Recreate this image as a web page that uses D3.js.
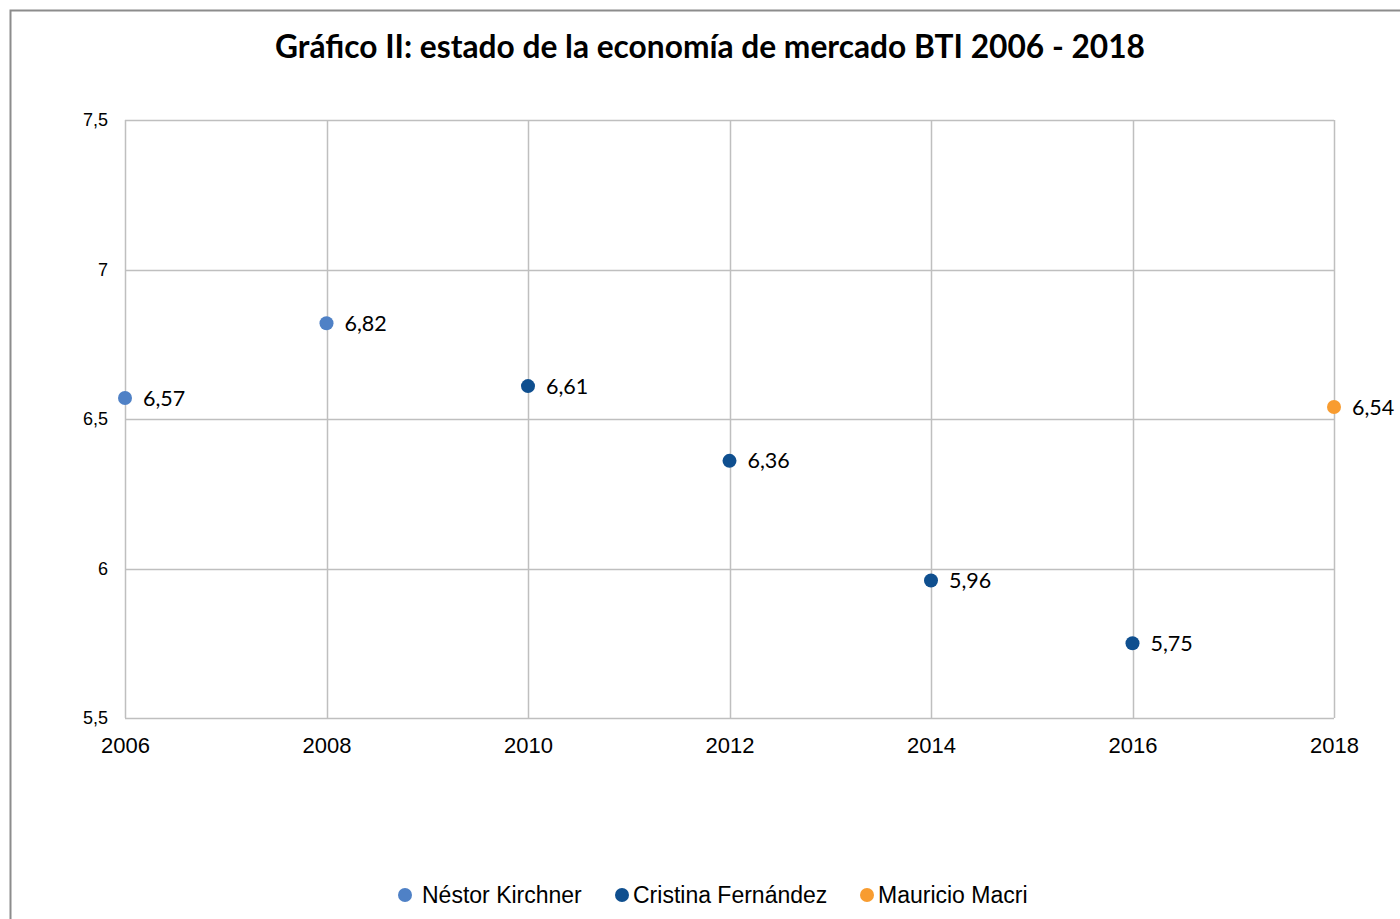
<!DOCTYPE html>
<html>
<head>
<meta charset="utf-8">
<script src="https://cdn.jsdelivr.net/npm/d3@7"></script>
<style>
  body { margin: 0; background: #fff; }
  svg { display: block; }
</style>
</head>
<body>
<div id="chart"></div>
<script>
// BTI market economy status, by president
const years = [2006, 2008, 2010, 2012, 2014, 2016, 2018];
const yTicks = [5.5, 6, 6.5, 7, 7.5];
const seriesNames = ['Néstor Kirchner', 'Cristina Fernández', 'Mauricio Macri'];
const seriesColors = ['#4f81c6', '#0f4f8f', '#f89c30'];

const kirchnerPts = [[2006, 6.57], [2008, 6.82]];
const cristinaPts = [[2010, 6.61], [2012, 6.36], [2014, 5.96], [2016, 5.75]];
const macriPts = [[2018, 6.54]];

const W = 1400, H = 919;
const margin = { top: 120, right: 66, bottom: 201, left: 125 };
const fmt = (v) => String(v).replace('.', ',');

const svg = d3.select('#chart').append('svg')
  .attr('width', W)
  .attr('height', H);

// outer frame of the chart object
svg.append('rect')
  .attr('x', 10.5).attr('y', 10.5)
  .attr('width', W + 20).attr('height', H + 20)
  .attr('fill', 'none')
  .attr('stroke', '#8c8c8c')
  .attr('stroke-width', 2);

svg.append('text')
  .attr('x', 710).attr('y', 58)
  .attr('text-anchor', 'middle')
  .style('font-family', 'Lato, "Open Sans", sans-serif')
  .style('font-weight', 'bold')
  .style('font-size', '31.7px')
  .attr('fill', '#000')
  .text('Gráfico II: estado de la economía de mercado BTI 2006 - 2018');

const x = d3.scaleLinear()
  .domain([2006, 2018])
  .range([margin.left, W - margin.right]);

const y = d3.scaleLinear()
  .domain([5.5, 7.5])
  .range([H - margin.bottom, margin.top]);

const grid = svg.append('g').attr('class', 'grid');

grid.selectAll('line.h')
  .data(yTicks)
  .enter()
  .append('line')
  .attr('class', 'h')
  .attr('x1', x(2006)).attr('x2', x(2018))
  .attr('y1', (d) => Math.round(y(d)) + 0.5)
  .attr('y2', (d) => Math.round(y(d)) + 0.5)
  .attr('stroke', '#bfbfbf')
  .attr('stroke-width', 1.5);

grid.selectAll('line.v')
  .data(years)
  .enter()
  .append('line')
  .attr('class', 'v')
  .attr('y1', y(5.5)).attr('y2', y(7.5))
  .attr('x1', (d) => Math.round(x(d)) + 0.5)
  .attr('x2', (d) => Math.round(x(d)) + 0.5)
  .attr('stroke', '#bfbfbf')
  .attr('stroke-width', 1.5);

// axes, labels only
const yAxis = svg.append('g')
  .attr('transform', `translate(${margin.left},0)`)
  .call(d3.axisLeft(y).tickValues(yTicks).tickSize(0).tickPadding(17).tickFormat(fmt));
yAxis.select('.domain').remove();
yAxis.selectAll('text')
  .style('font-family', '"Liberation Sans", Arial, sans-serif')
  .style('font-size', '18px')
  .attr('fill', '#000');

const xAxis = svg.append('g')
  .attr('transform', `translate(0,${H - margin.bottom})`)
  .call(d3.axisBottom(x).tickValues(years).tickSize(0).tickPadding(19).tickFormat(d3.format('d')));
xAxis.select('.domain').remove();
xAxis.selectAll('text')
  .style('font-family', '"Liberation Sans", Arial, sans-serif')
  .style('font-size', '22px')
  .attr('fill', '#000');

const allSeries = [kirchnerPts, cristinaPts, macriPts];
const pts = svg.append('g').attr('class', 'points');

allSeries.forEach((data, i) => {
  const g = pts.append('g');
  g.selectAll('circle')
    .data(data)
    .enter()
    .append('circle')
    .attr('cx', (d) => x(d[0]))
    .attr('cy', (d) => y(d[1]))
    .attr('r', 7)
    .attr('fill', seriesColors[i]);

  g.selectAll('text')
    .data(data)
    .enter()
    .append('text')
    .attr('x', (d) => x(d[0]) + 18)
    .attr('y', (d) => y(d[1]))
    .attr('dy', '0.35em')
    .style('font-family', 'Lato, "Open Sans", sans-serif')
    .style('font-size', '21.5px')
    .attr('fill', '#000')
    .text((d) => fmt(d[1].toFixed(2)));
});

// legend
const legendX = [405, 622, 867];
const legend = svg.append('g').attr('class', 'legend');
const item = legend.selectAll('g')
  .data(seriesNames)
  .enter()
  .append('g')
  .attr('transform', (d, i) => `translate(${legendX[i]},895)`);

item.append('circle')
  .attr('r', 7)
  .attr('fill', (d, i) => seriesColors[i]);

item.append('text')
  .attr('x', (d, i) => (i === 0 ? 17 : 11))
  .attr('dy', '0.35em')
  .style('font-family', '"Liberation Sans", Arial, sans-serif')
  .style('font-size', '23px')
  .attr('fill', '#000')
  .text((d) => d);
</script>
</body>
</html>
